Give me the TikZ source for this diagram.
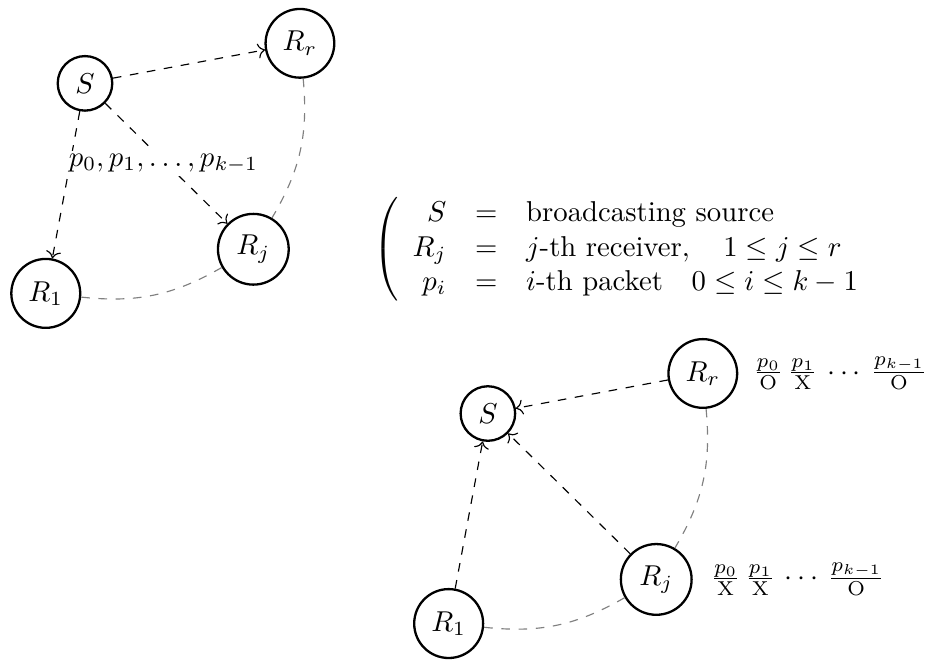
\documentclass[tikz,border=0pt]{standalone}
\usepackage{amsmath,amssymb}
\usepackage{tikz}
\usetikzlibrary{arrows.meta,positioning}
\tikzset{
  station/.style={circle, draw, thick},
  feed/.style={dashed, ->},
  reach/.style={dashed, gray, bend left=18},
  tally/.style={inner sep=2pt}
}

\begin{document}
\begin{tikzpicture}
  \useasboundingbox (0,0) rectangle (11.38,-8.14);
  % broadcast: source to receivers
  \begin{scope}
    \node[station] (S) at (1.04,-1.02) {$S$};
    \node[station] (Rr) at (3.67,-0.53) {$R_r$};
    \node[station] (Rj) at (3.10,-3.05) {$R_j$};
    \node[station] (Ra) at (0.56,-3.59) {$R_1$};
    \draw[feed] (S) -- (Rr);
    \draw[feed] (S) -- (Rj);
    \draw[feed] (S) -- (Ra);
    \draw[reach] (Rr) to (Rj);
    \draw[reach] (Rj) to (Ra);
    \node[fill=white, inner sep=1pt] (pkts) at (2.00,-2.00) {$p_0,p_1,\ldots,p_{k-1}$};
  \end{scope}
  % legend
  \node (legend) at (7.64,-3.05) {$\left(\begin{array}{rcl}
    S & = & \text{broadcasting source}\\
    R_j & = & j\text{-th receiver},\quad 1\le j\le r\\
    p_i & = & i\text{-th packet}\quad 0\le i\le k-1
  \end{array}\right.$};
  % feedback: receivers to source
  \begin{scope}[shift={(4.93,-4.04)}]
    \node[station] (Sb) at (1.04,-1.02) {$S$};
    \node[station] (Rrb) at (3.67,-0.53) {$R_r$};
    \node[station] (Rjb) at (3.10,-3.05) {$R_j$};
    \node[station] (Rab) at (0.56,-3.59) {$R_1$};
    \draw[feed] (Rrb) -- (Sb);
    \draw[feed] (Rjb) -- (Sb);
    \draw[feed] (Rab) -- (Sb);
    \draw[reach] (Rrb) to (Rjb);
    \draw[reach] (Rjb) to (Rab);
    \node[tally, right=3pt of Rrb] (ackr) {$\frac{p_0}{\mathrm{O}}\,\frac{p_1}{\mathrm{X}}\,\cdots\,\frac{p_{k-1}}{\mathrm{O}}$};
    \node[tally, right=4pt of Rjb] (ackj) {$\frac{p_0}{\mathrm{X}}\,\frac{p_1}{\mathrm{X}}\,\cdots\,\frac{p_{k-1}}{\mathrm{O}}$};
  \end{scope}
\end{tikzpicture}
\end{document}
